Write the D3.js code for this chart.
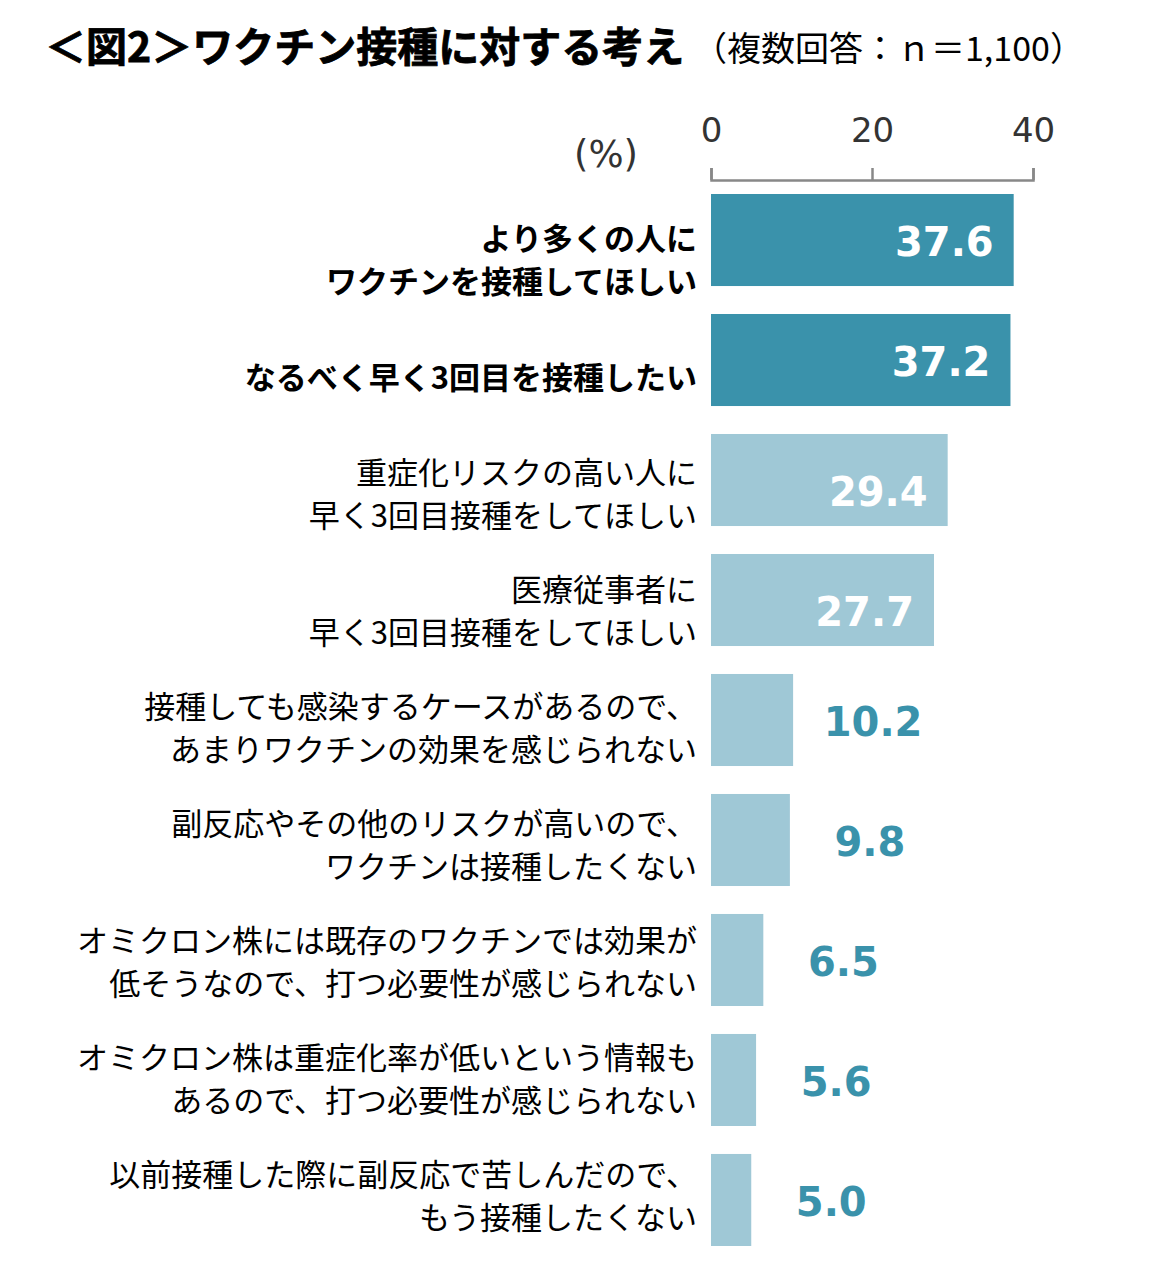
<!DOCTYPE html>
<html>
<head>
<meta charset="utf-8">
<script src="https://cdn.jsdelivr.net/npm/d3@7"></script>
<style>
  body { margin: 0; background: #fff; }
  svg { display: block; }
</style>
</head>
<body>
<svg width="1153" height="1286"></svg>
<script>
// Survey answers, in display order
const categories = [
  "more_people", "third_soon", "high_risk", "medical",
  "no_effect", "side_effects", "omicron_existing", "omicron_mild", "prior_side"
];
const labelLines = [
  ["より多くの人に", "ワクチンを接種してほしい"],
  ["なるべく早く3回目を接種したい"],
  ["重症化リスクの高い人に", "早く3回目接種をしてほしい"],
  ["医療従事者に", "早く3回目接種をしてほしい"],
  ["接種しても感染するケースがあるので、", "あまりワクチンの効果を感じられない"],
  ["副反応やその他のリスクが高いので、", "ワクチンは接種したくない"],
  ["オミクロン株には既存のワクチンでは効果が", "低そうなので、打つ必要性が感じられない"],
  ["オミクロン株は重症化率が低いという情報も", "あるので、打つ必要性が感じられない"],
  ["以前接種した際に副反応で苦しんだので、", "もう接種したくない"]
];
const values = [37.6, 37.2, 29.4, 27.7, 10.2, 9.8, 6.5, 5.6, 5.0];
const highlighted = [true, true, false, false, false, false, false, false, false];
const xTicks = [0, 20, 40];

const darkColor = "#3a92ab";
const lightColor = "#9fc8d6";
const jpFont = "'Noto Sans CJK JP', 'Noto Sans', sans-serif";
const numFont = "'DejaVu Sans', Verdana, sans-serif";

const svg = d3.select("svg");

const x = d3.scaleLinear().domain([0, 40]).range([711, 1033]);
const yBar = d3.scaleBand().domain(categories).range([194, 1246])
  .paddingInner(0.233).paddingOuter(0);
// labels sit on a slightly tighter band than the bars
const yLabel = d3.scaleBand().domain(categories).range([199.5, 1252.5]);

// Title
svg.append("text")
  .attr("x", 45).attr("y", 62)
  .attr("font-family", jpFont).attr("font-weight", "bold")
  .attr("font-size", 41).attr("fill", "#000")
  .attr("stroke", "#000").attr("stroke-width", 0.8)
  .text("＜図2＞ワクチン接種に対する考え");
svg.append("text")
  .attr("x", 693).attr("y", 61)
  .attr("font-family", jpFont)
  .attr("font-size", 34).attr("fill", "#000")
  .text("（複数回答：ｎ＝1,100）");

// Axis on top
const axis = svg.append("g")
  .attr("transform", "translate(0,180)")
  .call(d3.axisTop(x).tickValues(xTicks).tickSize(12).tickSizeOuter(12).tickPadding(26));
axis.selectAll("path, line").attr("stroke", "#888").attr("stroke-width", 2.5);
axis.selectAll("text")
  .attr("font-family", numFont).attr("font-size", 34).attr("fill", "#333");

svg.append("text")
  .attr("x", 606).attr("y", 167)
  .attr("text-anchor", "middle")
  .attr("font-family", numFont).attr("font-size", 37).attr("fill", "#333")
  .text("(%)");

// Bars
svg.append("g")
  .selectAll("rect")
  .data(categories)
  .join("rect")
  .attr("x", x(0))
  .attr("y", d => yBar(d))
  .attr("width", (d, i) => x(values[i]) - x(0))
  .attr("height", yBar.bandwidth())
  .attr("fill", (d, i) => highlighted[i] ? darkColor : lightColor);

// Value labels: inside the long bars, beside the short ones
svg.append("g")
  .selectAll("text")
  .data(categories)
  .join("text")
  .attr("x", (d, i) => values[i] > 20 ? x(values[i]) - 20 : x(values[i]) + 80)
  .attr("y", (d, i) => {
    const c = yBar(d) + yBar.bandwidth() / 2;
    if (values[i] > 20 && !highlighted[i]) return c + 12;
    return c + 2;
  })
  .attr("text-anchor", (d, i) => values[i] > 20 ? "end" : "middle")
  .attr("dominant-baseline", "central")
  .attr("font-family", numFont).attr("font-weight", "bold")
  .attr("font-size", 40)
  .attr("fill", (d, i) => values[i] > 20 ? "#fff" : darkColor)
  .text((d, i) => values[i].toFixed(1));

// Category labels
const lineGap = 43;
const labels = svg.append("g")
  .selectAll("text")
  .data(categories)
  .join("text")
  .attr("text-anchor", "end")
  .attr("font-family", jpFont)
  .attr("font-weight", (d, i) => highlighted[i] ? "bold" : "normal")
  .attr("font-size", 31)
  .attr("fill", "#000");

labels.each(function (d, i) {
  const lines = labelLines[i];
  const c = yLabel(d) + yLabel.bandwidth() / 2;
  d3.select(this).selectAll("tspan")
    .data(lines)
    .join("tspan")
    .attr("x", 697)
    .attr("y", (l, j) => c + (j - (lines.length - 1) / 2) * lineGap)
    .attr("dominant-baseline", "central")
    .text(l => l);
});
</script>
</body>
</html>
